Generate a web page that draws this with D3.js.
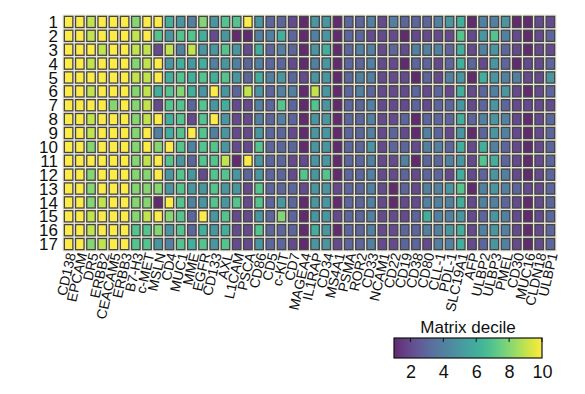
<!DOCTYPE html>
<html>
<head>
<meta charset="utf-8">
<script src="https://cdn.jsdelivr.net/npm/d3@7"></script>
<style>
  html, body { margin: 0; padding: 0; background: #fff; }
  svg { display: block; }
  text { font-family: Arial, "Liberation Sans", sans-serif; fill: #111; }
</style>
</head>
<body>
<svg id="chart" width="585" height="394"></svg>
<script>
// ---------------- data ----------------
const rowLabels = ["1","2","3","4","5","6","7","8","9","10","11","12","13","14","15","16","17"];

const targets = ["CD138","EPCAM","DR5","ERBB2","CEACAM5","ERBB3","B7-H3","c-MET","MSLN","CD4",
  "MUC1","MME","EGFR","CD133","AXL","L1CAM","PSCA","CD86","CD5","c-KIT","CD7","MAGEA4","IL1RAP",
  "CD34","MS4A1","PSMA","ROR2","CD33","NCAM1","CD22","CD19","CD38","CD80","CLL-1","PDL-1",
  "SLC19A1","AFP","ULBP2","ULBP3","PMEL","CD30","MUC16","CLDN18","ULBP1"];

// matrix decile, one array per row (17 rows x 44 targets)
const deciles = [
  [10,10,9,10,10,10,8,10,10, 6,5,4,8,5,7,7, 10,5,3,3,2,1,5,5,1,3,3,4,2, 4,3,3,3,4,5,6,1,4,4,5,1,1,2,2],
  [10,10,9,10,10,10,9,10,7, 5,7,7,6,2,5,1, 1,4,4,6,3,1,4,5,1,3,3,2,2, 2,1,2,2,2,2,7,2,5,7,4,2,1,2,3],
  [10,10,10,9,10,10,9,9,2, 9,4,9,5,5,7,5, 2,6,3,4,3,1,5,6,1,3,4,4,2, 3,2,4,4,4,3,6,2,4,5,3,2,1,2,2],
  [10,10,9,10,10,10,8,9,10, 5,6,5,6,4,5,4, 3,4,3,3,2,1,4,5,1,3,3,4,2, 2,1,3,3,2,3,6,3,2,5,3,1,2,2,3],
  [10,10,10,10,10,10,9,9,10, 6,7,6,7,6,7,5, 3,6,4,5,3,2,5,5,1,3,4,4,2, 2,2,1,3,2,4,5,1,6,5,4,4,2,2,5],
  [10,10,9,10,10,10,8,9,6, 7,8,6,5,10,5,3, 9,5,3,4,4,1,9,5,1,3,4,3,2, 2,2,3,2,3,2,6,2,3,4,5,2,1,2,3],
  [10,10,10,10,8,10,8,9,2, 7,7,3,7,5,6,2, 2,4,3,7,3,1,7,5,1,3,3,4,2, 2,2,3,2,3,3,5,2,3,5,3,2,2,2,2],
  [10,10,9,10,10,10,8,9,10, 6,7,2,7,10,5,2, 2,4,3,4,3,1,5,5,1,3,3,4,2, 2,3,1,3,3,3,6,3,4,5,4,2,1,2,3],
  [10,10,9,10,10,10,8,10,4, 6,7,10,7,4,5,2, 2,5,3,3,2,1,5,5,1,3,3,4,2, 3,2,1,4,3,2,5,1,3,5,4,2,1,2,3],
  [10,10,8,10,10,10,8,10,8, 10,7,4,7,7,5,2, 2,7,3,3,3,1,5,5,1,3,3,5,2, 3,3,2,4,4,3,6,2,6,4,3,2,1,2,3],
  [10,10,10,10,10,10,8,9,10, 7,5,3,7,7,9,1, 10,5,3,3,2,2,5,5,1,3,3,4,2, 2,4,1,3,3,4,5,2,7,6,3,2,1,2,3],
  [10,10,8,10,10,10,8,8,10, 5,7,5,2,7,7,5, 3,5,3,3,2,7,5,7,1,3,3,4,2, 2,3,2,3,3,2,6,2,3,5,4,2,1,2,3],
  [10,10,8,10,10,10,8,8,8, 5,7,5,5,7,5,5, 2,7,3,3,3,2,5,5,2,3,3,4,2, 1,3,2,4,4,5,7,1,4,5,4,3,2,2,3],
  [10,10,8,9,10,10,8,8,1, 10,7,4,5,7,5,7, 2,7,3,5,3,1,5,5,1,3,3,4,2, 1,2,2,4,4,4,6,2,4,4,3,2,1,2,3],
  [10,10,9,10,10,10,8,9,10, 8,7,3,10,5,7,2, 2,5,3,8,3,1,5,5,2,3,3,4,2, 2,2,3,6,4,4,5,2,3,5,4,2,1,2,3],
  [10,10,9,10,10,10,7,7,8, 5,7,3,6,5,6,2, 2,7,3,3,3,1,6,5,1,3,3,4,2, 2,3,3,4,4,5,6,2,4,5,4,2,1,2,3],
  [10,10,8,9,10,10,7,7,5, 4,7,6,7,5,7,2, 2,5,3,3,2,1,5,5,2,3,3,4,2, 2,3,3,2,4,4,6,2,3,5,4,2,1,2,3]
];

const colorbarTicks = [2, 4, 6, 8, 10];
const colorbarTitle = "Matrix decile";

// ---------------- drawing ----------------
const svg = d3.select("#chart");

const gridLeft = 63, gridRight = 556, gridTop = 15, gridBottom = 251;

const x = d3.scaleBand().domain(targets).range([gridLeft, gridRight]).padding(0);
const y = d3.scaleBand().domain(rowLabels).range([gridTop, gridBottom]).padding(0);
// viridis, slightly washed toward white as in the reference print
const wash = t => d3.interpolateRgb(d3.interpolateViridis(t), "#ffffff")(0.16);
const color = d3.scaleSequential(wash).domain([1, 10]);

// gap background
svg.append("rect")
  .attr("x", gridLeft - 0.5).attr("y", gridTop - 0.5)
  .attr("width", gridRight - gridLeft + 1).attr("height", gridBottom - gridTop + 1)
  .attr("fill", "#e8e4d9");

const cells = [];
deciles.forEach((row, i) => row.forEach((v, j) => cells.push({ r: rowLabels[i], c: targets[j], v })));

const gap = 0.7;
svg.append("g").selectAll("rect").data(cells).join("rect")
  .attr("x", d => x(d.c) + gap + 0.65)
  .attr("y", d => y(d.r) + gap + 0.65)
  .attr("width", x.bandwidth() - 2 * gap - 1.3)
  .attr("height", y.bandwidth() - 2 * gap - 1.3)
  .attr("fill", d => color(d.v))
  .attr("stroke", "#454545")
  .attr("stroke-width", 1.3);

// row labels
svg.append("g").selectAll("text").data(rowLabels).join("text")
  .attr("x", gridLeft - 5)
  .attr("y", d => y(d) + y.bandwidth() / 2)
  .attr("dy", "0.36em")
  .attr("text-anchor", "end")
  .style("font-size", "17px")
  .text(d => d);

// column labels (rotated)
svg.append("g").selectAll("text").data(targets).join("text")
  .attr("transform", d => `translate(${x(d) + x.bandwidth() / 2 + 2.5},${gridBottom + 2}) rotate(-77)`)
  .attr("dy", "0.36em")
  .attr("text-anchor", "end")
  .style("font-size", "14px")
  .text(d => d);

// colorbar
const cbLeft = 394, cbRight = 542, cbTop = 338, cbBottom = 358;
const cbScale = d3.scaleLinear().domain([1, 10]).range([cbLeft, cbRight]);

const defs = svg.append("defs");
const grad = defs.append("linearGradient").attr("id", "cbgrad")
  .attr("x1", "0%").attr("x2", "100%").attr("y1", "0%").attr("y2", "0%");
d3.range(0, 1.0001, 0.05).forEach(t => {
  grad.append("stop").attr("offset", (t * 100) + "%").attr("stop-color", wash(t));
});

svg.append("rect")
  .attr("x", cbLeft).attr("y", cbTop)
  .attr("width", cbRight - cbLeft).attr("height", cbBottom - cbTop)
  .attr("fill", "url(#cbgrad)")
  .attr("stroke", "#111").attr("stroke-width", 1.2);

const cbAxis = d3.axisBottom(cbScale).tickValues(colorbarTicks).tickSize(0).tickPadding(0);
const cbg = svg.append("g").attr("transform", `translate(0,${cbBottom})`).call(cbAxis);
cbg.select(".domain").remove();
cbg.selectAll("text")
  .attr("y", 6).attr("dy", "0.75em")
  .style("font-size", "18px")
  .style("font-family", "Arial, 'Liberation Sans', sans-serif")
  .attr("fill", "#111");

// inward ticks on top edge
svg.append("g").selectAll("line").data(colorbarTicks).join("line")
  .attr("x1", d => cbScale(d)).attr("x2", d => cbScale(d))
  .attr("y1", cbTop).attr("y2", cbTop + 4)
  .attr("stroke", "#111").attr("stroke-width", 1);

svg.append("text")
  .attr("x", (cbLeft + cbRight) / 2)
  .attr("y", cbTop - 5)
  .attr("text-anchor", "middle")
  .style("font-size", "17px")
  .text(colorbarTitle);
</script>
</body>
</html>
